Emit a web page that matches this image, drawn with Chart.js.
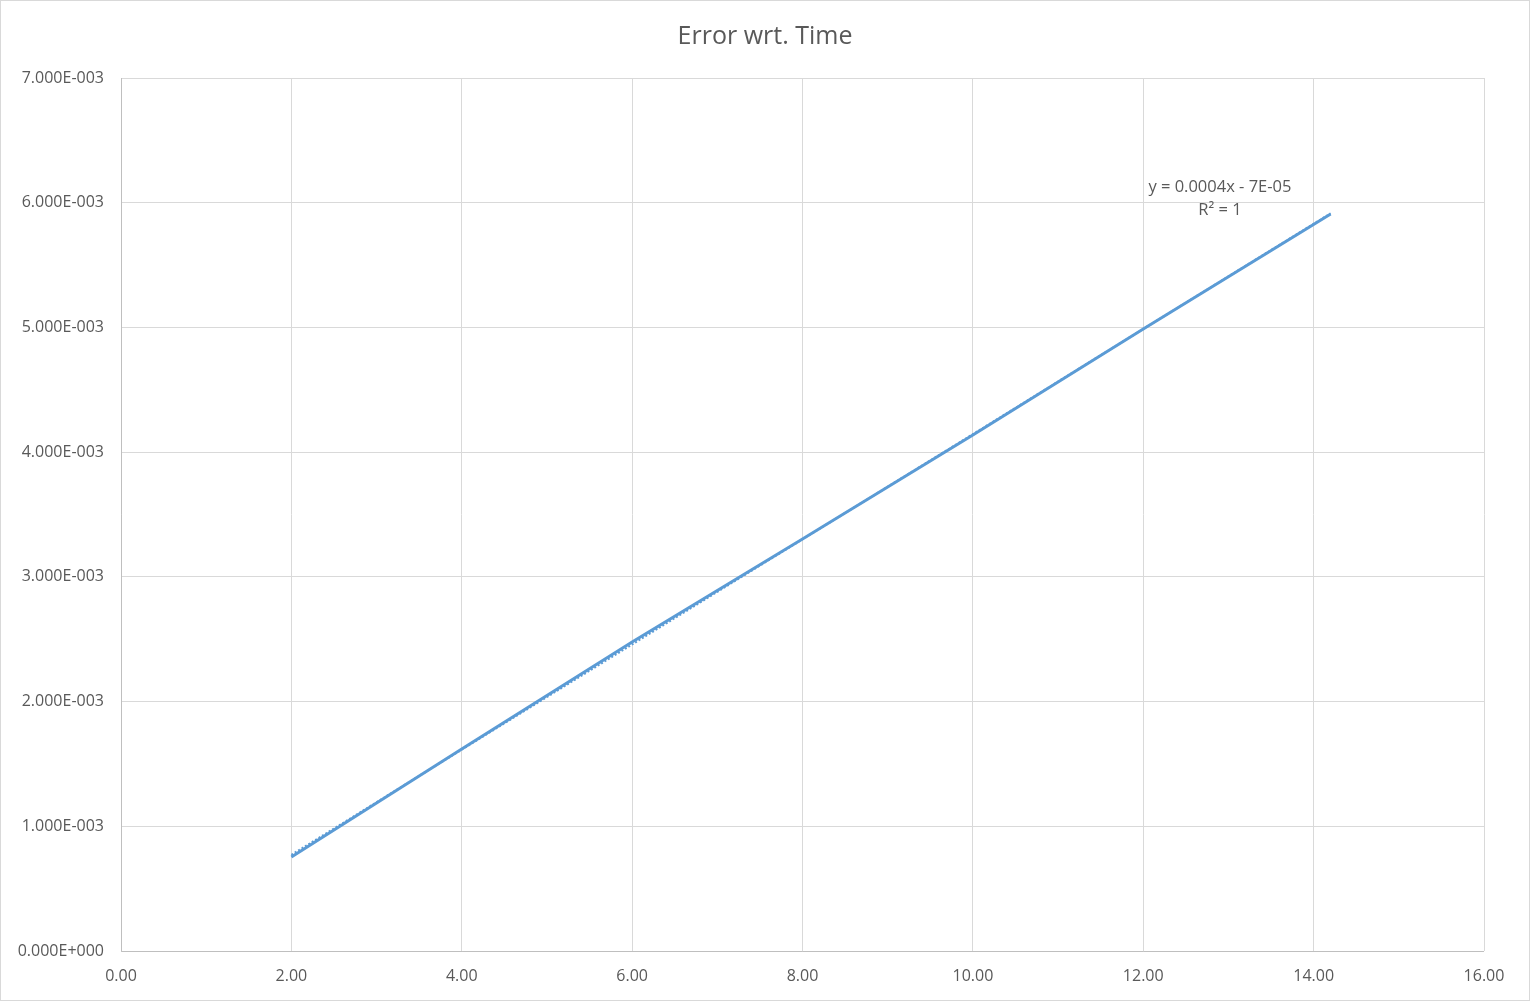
<!DOCTYPE html>
<html lang="en">
<head>
  <meta charset="UTF-8">
  <title>Error wrt. Time</title>
  <script src="https://cdn.jsdelivr.net/npm/chart.js"></script>
  <style>
    html, body { margin: 0; padding: 0; background: #ffffff; }
    canvas { display: block; }
  </style>
</head>
<body>
  <canvas id="errorChart" width="1530" height="1001"></canvas>

  <script>
    // values
    const timeValues = [2.0, 4.0, 6.0, 8.0, 10.0, 12.0, 14.2];
    const errorValues = [0.754e-3, 1.620e-3, 2.478e-3, 3.304e-3, 4.138e-3, 4.988e-3, 5.910e-3];
    const xTicks = [0, 2, 4, 6, 8, 10, 12, 14, 16];
    const yTicks = [0, 1e-3, 2e-3, 3e-3, 4e-3, 5e-3, 6e-3, 7e-3];
    const chartTitle = 'Error wrt. Time';
    const trendLabel = ['y = 0.0004x - 7E-05', 'R\u00B2 = 1'];

    const points = timeValues.map((t, i) => ({ x: t, y: errorValues[i] }));

    // least squares fit for the dotted trendline
    const n = timeValues.length;
    const mx = timeValues.reduce((a, b) => a + b, 0) / n;
    const my = errorValues.reduce((a, b) => a + b, 0) / n;
    let sxy = 0, sxx = 0;
    timeValues.forEach((t, i) => { sxy += (t - mx) * (errorValues[i] - my); sxx += (t - mx) * (t - mx); });
    const slope = sxy / sxx;
    const intercept = my - slope * mx;
    const xFirst = timeValues[0], xLast = timeValues[n - 1];
    const trendPoints = [
      { x: xFirst, y: slope * xFirst + intercept },
      { x: xLast, y: slope * xLast + intercept }
    ];

    function sci(v) {
      const parts = v.toExponential(3).split('e');
      const exp = parseInt(parts[1], 10);
      const sign = exp < 0 ? '-' : '+';
      return parts[0].toUpperCase() + 'E' + sign + String(Math.abs(exp)).padStart(3, '0');
    }

    const textColor = '#595959';
    const gridColor = '#d9d9d9';

    const extras = {
      id: 'extras',
      afterDraw(chart) {
        const ctx = chart.ctx;
        const xs = chart.scales.x, ys = chart.scales.y;
        ctx.save();
        // axis lines
        ctx.strokeStyle = '#bfbfbf';
        ctx.lineWidth = 1;
        ctx.beginPath();
        ctx.moveTo(Math.round(xs.left) + 0.5, ys.top);
        ctx.lineTo(Math.round(xs.left) + 0.5, Math.round(ys.bottom) + 0.5);
        ctx.lineTo(xs.right, Math.round(ys.bottom) + 0.5);
        ctx.stroke();
        ctx.fillStyle = textColor;
        ctx.textAlign = 'center';
        ctx.textBaseline = 'middle';
        // title, centred on the whole picture
        ctx.font = '25px "Open Sans"';
        ctx.fillText(chartTitle, chart.width / 2, 37);
        // trendline label
        ctx.font = '16.5px "Open Sans"';
        const lx = xs.getPixelForValue(12.9);
        const ly = ys.getPixelForValue(6.1e-3);
        ctx.fillText(trendLabel[0], lx, ly - 3);
        ctx.fillText(trendLabel[1], lx, ly + 20);
        // outer border
        ctx.strokeStyle = '#d9d9d9';
        ctx.strokeRect(0.5, 0.5, chart.width - 1, chart.height - 1);
        ctx.restore();
      }
    };

    new Chart(document.getElementById('errorChart'), {
      type: 'scatter',
      data: {
        datasets: [
          {
            label: 'Error',
            data: points,
            showLine: true,
            borderColor: '#5b9bd5',
            backgroundColor: '#5b9bd5',
            borderWidth: 3,
            pointRadius: 0,
            tension: 0
          },
          {
            label: 'Linear trend',
            data: trendPoints,
            showLine: true,
            borderColor: '#5b9bd5',
            borderWidth: 2,
            borderDash: [2, 2],
            pointRadius: 0
          }
        ]
      },
      options: {
        responsive: false,
        animation: false,
        layout: { padding: { top: 78, right: 46, bottom: 0, left: 0 } },
        plugins: {
          legend: { display: false },
          tooltip: { enabled: false },
          title: { display: false }
        },
        scales: {
          x: {
            type: 'linear',
            min: 0,
            max: 16,
            afterFit(scale) { scale.height = 50; },
            afterBuildTicks(scale) { scale.ticks = xTicks.map(v => ({ value: v })); },
            grid: { color: gridColor, drawTicks: false },
            border: { display: false },
            ticks: {
              color: textColor,
              font: { family: '"Open Sans"', size: 16 },
              padding: 16,
              callback: v => v.toFixed(2)
            }
          },
          y: {
            type: 'linear',
            min: 0,
            max: 7e-3,
            afterFit(scale) { scale.width = 121; },
            afterBuildTicks(scale) { scale.ticks = yTicks.map(v => ({ value: v })); },
            grid: { color: gridColor, drawTicks: false },
            border: { display: false },
            ticks: {
              color: textColor,
              font: { family: '"Open Sans"', size: 16 },
              padding: 17,
              callback: v => sci(v)
            }
          }
        }
      },
      plugins: [extras]
    });
  </script>
</body>
</html>
